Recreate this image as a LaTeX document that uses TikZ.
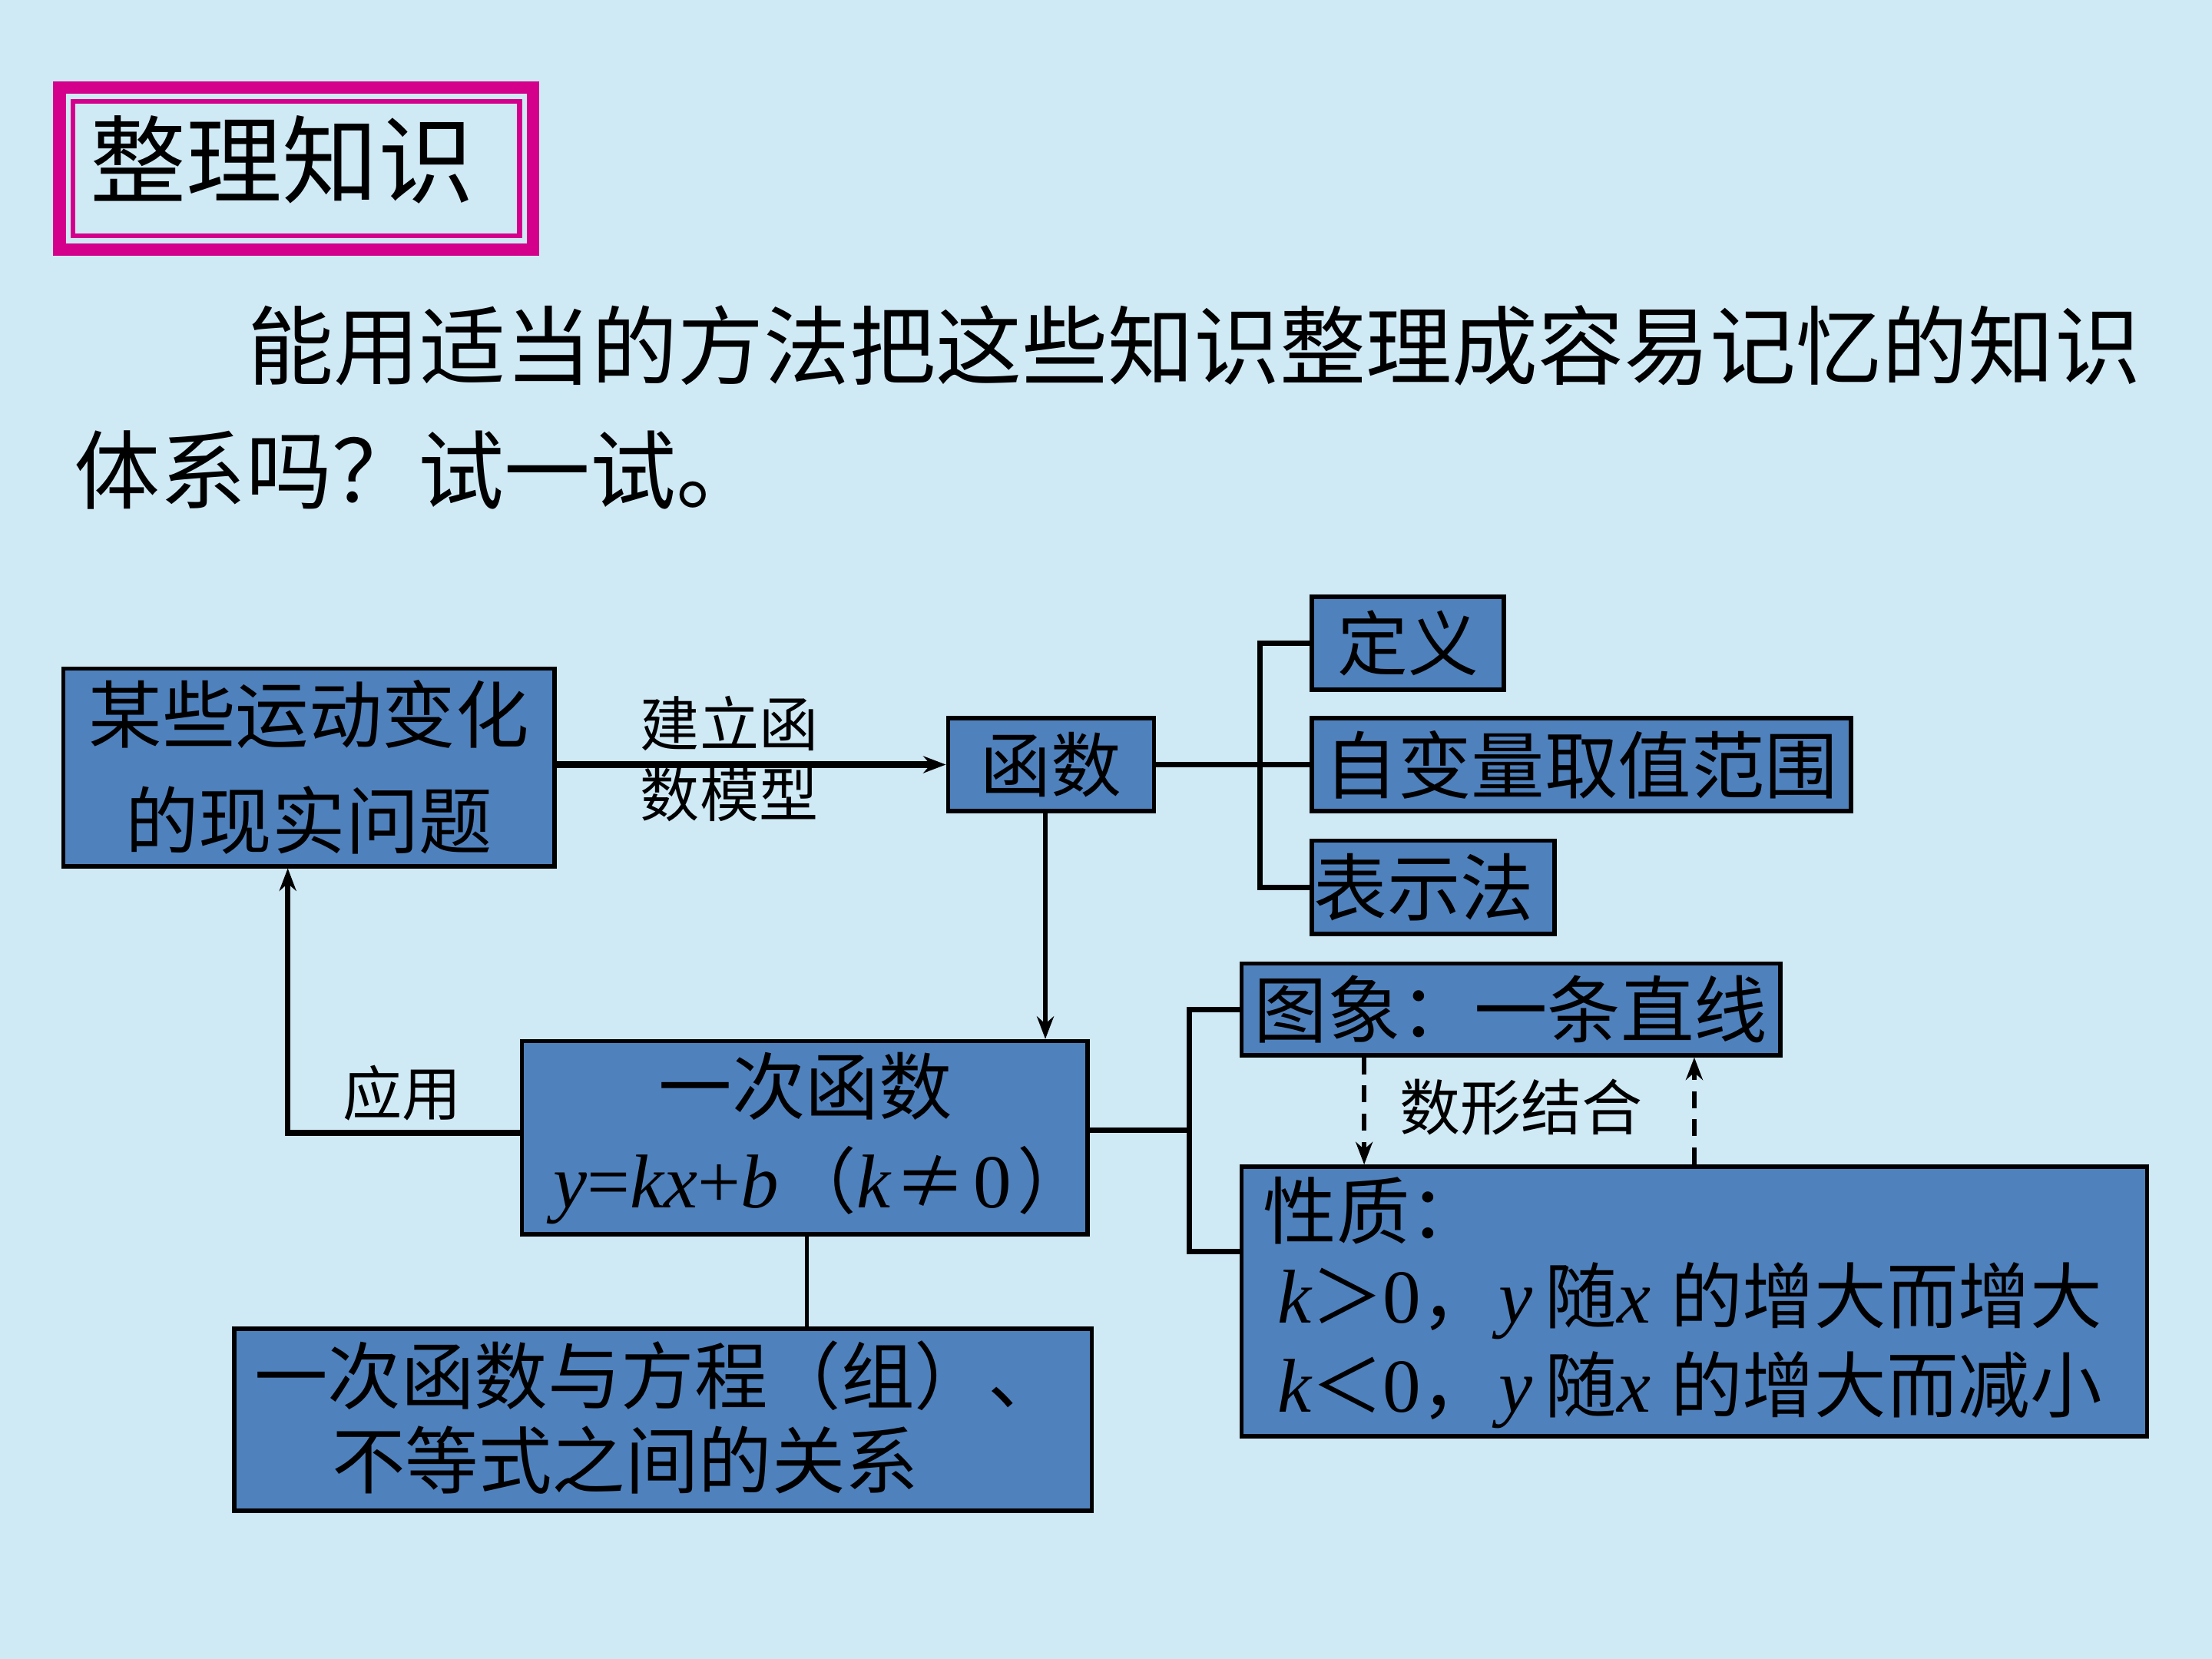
\documentclass[tikz,border=0pt]{standalone}
\usepackage{fontspec}
\setmainfont{Liberation Serif}
\newfontfamily\cjk{Noto Sans CJK SC}
\usetikzlibrary{arrows.meta}
\definecolor{bgblue}{RGB}{207,233,245}
\definecolor{boxblue}{RGB}{79,129,189}
\definecolor{mag}{RGB}{212,0,140}
\newcommand\mi[1]{{\rmfamily\itshape #1}}
\newcommand\cj[1]{{\cjk\fontsize{25.5}{30}\selectfont #1}}
\tikzset{
  box/.style={draw=black, line width=1.5pt, fill=boxblue, inner sep=0pt, text=black,
    font=\cjk\fontsize{26}{37.5}\selectfont, align=center},
  txt/.style={inner sep=0pt, text=black, font=\cjk\fontsize{26}{37.5}\selectfont},
  lab/.style={inner sep=0pt, text=black, font=\cjk\fontsize{21}{25}\selectfont, align=center},
  conn/.style={line width=2pt, draw=black},
  thinconn/.style={line width=1.5pt, draw=black},
  arr/.style={line width=1.5pt, draw=black, -{Stealth[length=8pt,width=6pt]}},
  dashedarr/.style={line width=1.6pt, draw=black, dash pattern=on 6pt off 4pt, -{Stealth[length=8pt,width=6pt]}},
}
\begin{document}
\begin{tikzpicture}[x=0.5pt,y=-0.5pt]
\fill[bgblue] (0,0) rectangle (1568,1176);
\useasboundingbox (0,0) rectangle (1568,1176);

% title
\node[minimum width=172pt, minimum height=61.5pt, inner sep=0pt] (title) at (210,119.5) {};
\draw[mag, line width=4.5pt] ([shift={(2.25pt,-2.25pt)}]title.north west) rectangle ([shift={(-2.25pt,2.25pt)}]title.south east);
\draw[mag, line width=1.75pt] ([shift={(7.1pt,-7.1pt)}]title.north west) rectangle ([shift={(-7.1pt,7.1pt)}]title.south east);
\node[txt, font=\cjk\fontsize{34}{40}\selectfont] (titletext) at (200,113) {整理知识};

% paragraph
\node[txt, anchor=west, font=\cjk\fontsize{30.5}{40}\selectfont] (p1) at (175,245) {能用适当的方法把这些知识整理成容易记忆的知识};
\node[txt, anchor=west, font=\cjk\fontsize{30.5}{40}\selectfont] (p2) at (52,333) {体系吗？试一试。};

% boxes
\node[box, minimum width=174pt, minimum height=70pt] (A) at (219,544) {某些运动变化\\的现实问题};
\node[box, minimum width=73pt, minimum height=33pt, font=\cjk\fontsize{25}{30}\selectfont] (B) at (745,542) {函数};
\node[box, minimum width=68pt, minimum height=33pt, font=\cjk\fontsize{25}{30}\selectfont] (def) at (998,456) {定义};
\node[box, minimum width=191pt, minimum height=33pt] (range) at (1121,542) {自变量取值范围};
\node[box, minimum width=86pt, minimum height=33pt] (rep) at (1016,629) {};
\node[txt, anchor=west] (reptext) at (931,629) {表示法};
\node[box, minimum width=200.5pt, minimum height=68.5pt] (C) at (570.5,806.5) {};
\node[txt] (C1) at (571,770) {一次函数};
\node[txt, anchor=west, font=\rmfamily\fontsize{27}{30}\selectfont] (C2) at (392,840)
  {\mi{y}=\mi{kx}+\mi{b}\hspace{2pt}\cj{（}\mi{k}\hspace{1.5pt}\cj{≠}\hspace{2.5pt}0\hspace{2pt}\cj{）}};
\node[box, minimum width=304pt, minimum height=64.5pt] (D) at (470,1006.5) {};
\node[txt, anchor=west] (D1) at (180,975) {一次函数与方程（组）、};
\node[txt, anchor=west] (D2) at (235,1035) {不等式之间的关系};
\node[box, minimum width=191pt, minimum height=32.5pt] (img) at (1071,715.5) {图象：一条直线};
\node[box, minimum width=321pt, minimum height=95.5pt] (prop) at (1201,922.5) {};
\node[txt, anchor=west] (prop1) at (895,858) {性质：};
\node[txt, anchor=west, font=\rmfamily\fontsize{27}{30}\selectfont] (prop2) at (905,922)
  {\mi{k}\cj{＞}0\cj{，}\hspace{2pt}\mi{y}\hspace{4.5pt}\cj{随}\mi{x}\hspace{7pt}\cj{的增大而增大}};
\node[txt, anchor=west, font=\rmfamily\fontsize{27}{30}\selectfont] (prop3) at (905,985)
  {\mi{k}\cj{＜}0\cj{，}\hspace{2pt}\mi{y}\hspace{4.5pt}\cj{随}\mi{x}\hspace{7pt}\cj{的增大而减小}};

% labels
\node[lab] (lbuild) at (517,538) {建立函\\数模型};
\node[lab] (lapp) at (285,775) {应用};
\node[lab, font=\cjk\fontsize{21.5}{25}\selectfont] (lsx) at (1078,785) {数形结合};

% connectors
\draw[arr, line width=2.5pt] (A.east |- B.west) -- (B.west);
\coordinate (j1) at (893,542);
\draw[conn] (B.east) -- (range.west);
\draw[conn] (def.west) -| (j1) |- (rep.west);
\draw[arr] (B.south -| 741,0) -- (C.north -| 741,0);
\draw[arr, line width=2pt] (C.west |- 0,803) -| ([xshift=-7.5pt]A.south);
\draw[thinconn] (C.south -| 572,0) -- (D.north -| 572,0);
\coordinate (j2) at (843,801);
\draw[conn] (C.east |- j2) -- (j2);
\draw[conn] (img.west) -| (j2) |- ([yshift=17.75pt]prop.west);
\coordinate (d1) at (967,0);
\coordinate (d2) at (1201,0);
\draw[dashedarr] (img.south -| d1) -- (prop.north -| d1);
\draw[dashedarr] (prop.north -| d2) -- (img.south -| d2);
\end{tikzpicture}
\end{document}
